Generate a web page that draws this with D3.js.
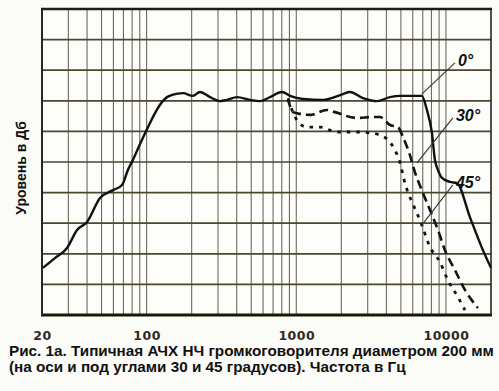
<!DOCTYPE html>
<html>
<head>
<meta charset="utf-8">
<script src="https://cdn.jsdelivr.net/npm/d3@7"></script>
<style>
  html, body { margin: 0; padding: 0; background: #fbfbf7; }
  svg { display: block; }
</style>
</head>
<body>
<svg id="chart" width="499" height="391"></svg>
<script>
// ---- data ----
const freq0  = [20.3, 24.4, 29.4, 34.3, 40, 48.8, 59.6, 68.5, 75, 81, 93, 137, 148, 175, 204, 227, 265, 309, 344, 402, 490, 572, 667, 802, 908, 1108, 1508, 2050, 2280, 2790, 3460, 4230, 4920, 6900, 7460, 8060, 8440, 8840, 9400, 10620, 11840, 14460, 17660, 20000];
const level0 = [1.54, 1.86, 2.19, 2.78, 3.04, 3.82, 4.08, 4.25, 4.74, 5.07, 5.72, 7.12, 7.19, 7.25, 7.16, 7.29, 7.12, 6.99, 7.03, 7.12, 7.03, 6.99, 7.12, 7.29, 7.16, 7.06, 7.03, 7.22, 7.29, 7.09, 6.99, 7.12, 7.16, 7.16, 6.70, 5.95, 5.07, 4.74, 4.48, 4.35, 4.31, 3.20, 2.12, 1.54];

const freq30  = [880, 950, 1234, 1603, 1812, 2540, 3250, 3620, 4230, 4780, 5160, 5740, 6200, 6900, 7820, 8840, 9840, 11480, 13400, 16350];
const level30 = [7.08, 6.63, 6.54, 6.70, 6.63, 6.44, 6.47, 6.47, 6.21, 6.14, 5.82, 5.23, 4.67, 4.08, 3.43, 2.78, 2.12, 1.47, 0.82, 0.23];

const freq45  = [880, 1010, 1178, 1439, 1870, 2180, 2660, 3105, 3620, 4230, 4560, 4920, 5320, 5930, 6400, 6900, 7820, 9120, 10300, 12020, 13400];
const level45 = [7.05, 6.37, 6.14, 6.14, 5.98, 5.98, 5.98, 5.95, 5.88, 5.65, 5.39, 5.00, 4.31, 3.69, 3.33, 2.94, 2.22, 1.73, 1.14, 0.59, 0.16];

const xTickValues = [20, 100, 1000, 10000];
const xTickLabels = ["20", "100", "1000", "10000"];
const yLevels = [0, 1, 2, 3, 4, 5, 6, 7, 8, 9, 10];
const vGridFreqs = [30, 40, 50, 60, 70, 80, 90, 100, 200, 300, 400, 500, 600, 700, 800, 900, 1000,
                    2000, 3000, 4000, 5000, 6000, 7000, 8000, 9000, 10000];

// callouts: [label, fromFreq, fromLevel, toFreq, toLevel]
const calloutLabels = ["0°", "30°", "45°"];
const calloutFrom = [[6900, 7.22], [6400, 4.97], [6900, 2.94]];
const calloutTo   = [[11480, 8.24], [11130, 6.44], [11130, 4.25]];

const yTitle = "Уровень в Дб";
const caption = ["Рис. 1а. Типичная АЧХ НЧ громкоговорителя диаметром 200 мм",
                 "(на оси и под углами 30 и 45 градусов). Частота в Гц"];

// ---- layout ----
const svg = d3.select("#chart");
const L = 42, R = 491, T = 9, B = 315;

const x = d3.scaleLog().domain([20, 20000]).range([L, R]);
const y = d3.scaleLinear().domain([0, 10]).range([B, T]);

// plot background
svg.append("rect").attr("x", L).attr("y", T).attr("width", R - L).attr("height", B - T)
  .attr("fill", "#fdfdf9");

// vertical grid
svg.append("g").selectAll("line").data(vGridFreqs).join("line")
  .attr("x1", d => x(d)).attr("x2", d => x(d))
  .attr("y1", T).attr("y2", B)
  .attr("stroke", "#6e6a62").attr("stroke-width", 1.1);

// horizontal grid
svg.append("g").selectAll("line").data(yLevels.slice(1, -1)).join("line")
  .attr("x1", L).attr("x2", R)
  .attr("y1", d => y(d)).attr("y2", d => y(d))
  .attr("stroke", "#4e4532").attr("stroke-width", 1.7);

// borders
svg.append("line").attr("x1", L - 1).attr("x2", R + 1).attr("y1", y(10)).attr("y2", y(10))
  .attr("stroke", "#221d12").attr("stroke-width", 2.6);
svg.append("line").attr("x1", L - 1).attr("x2", R + 1).attr("y1", y(0)).attr("y2", y(0))
  .attr("stroke", "#1d1708").attr("stroke-width", 3);
svg.append("line").attr("x1", x(20)).attr("x2", x(20)).attr("y1", T).attr("y2", B)
  .attr("stroke", "#2a261c").attr("stroke-width", 2);
svg.append("line").attr("x1", x(20000)).attr("x2", x(20000)).attr("y1", T).attr("y2", B)
  .attr("stroke", "#2a261c").attr("stroke-width", 1.6);

// curves
const line = d3.line().x(d => x(d[0])).y(d => y(d[1])).curve(d3.curveMonotoneX);
const zip = (a, b) => a.map((v, i) => [v, b[i]]);

svg.append("path").datum(zip(freq45, level45)).attr("d", line)
  .attr("fill", "none").attr("stroke", "#151515").attr("stroke-width", 2.8)
  .attr("stroke-dasharray", "3.5,6");
svg.append("path").datum(zip(freq30, level30)).attr("d", line)
  .attr("fill", "none").attr("stroke", "#151515").attr("stroke-width", 2.6)
  .attr("stroke-dasharray", "9,5");
svg.append("path").datum(zip(freq0, level0)).attr("d", line)
  .attr("fill", "none").attr("stroke", "#111").attr("stroke-width", 2.4)
  .attr("stroke-linejoin", "round");

// callouts
const cg = svg.append("g");
calloutLabels.forEach((lab, i) => {
  const [f1, l1] = calloutFrom[i], [f2, l2] = calloutTo[i];
  cg.append("line").attr("x1", x(f1)).attr("y1", y(l1)).attr("x2", x(f2)).attr("y2", y(l2))
    .attr("stroke", "#3a3a3a").attr("stroke-width", 1.2);
  cg.append("text").attr("x", x(f2) + 3).attr("y", y(l2) + 3)
    .attr("font-family", "Liberation Sans, Arial, sans-serif")
    .attr("font-weight", "bold").attr("font-style", "italic")
    .attr("font-size", 16).attr("fill", "#111").text(lab);
});

// x axis labels
const xAxis = d3.axisBottom(x).tickValues(xTickValues)
  .tickFormat((d, i) => xTickLabels[i]).tickSize(0).tickPadding(0);
const ax = svg.append("g").attr("transform", `translate(0,${B})`).call(xAxis);
ax.select(".domain").remove();
ax.selectAll("text")
  .attr("y", 25).attr("dy", 0)
  .attr("font-family", "DejaVu Sans, sans-serif").attr("font-weight", "bold")
  .attr("font-size", 12.5).attr("fill", "#2d2a22").attr("letter-spacing", "0.5");

// y title
svg.append("text").attr("transform", "translate(26,168) rotate(-90)")
  .attr("text-anchor", "middle")
  .attr("font-family", "Liberation Sans, Arial, sans-serif").attr("font-weight", "bold")
  .attr("font-size", 14).attr("fill", "#111").text(yTitle);

// caption
const capBaselines = [356, 372];
caption.forEach((t, i) => {
  const tx = svg.append("text").attr("x", 9).attr("y", capBaselines[i])
    .attr("font-family", "Liberation Sans, Arial, sans-serif").attr("font-weight", "bold")
    .attr("font-size", 14).attr("fill", "#111").text(t);
  if (i === 0) {
    const w = tx.node().getComputedTextLength();
    const fs = 14 * 485 / w;
    svg.selectAll("text.cap").attr("font-size", fs);
    tx.attr("font-size", fs).classed("cap", true);
  } else {
    tx.classed("cap", true);
  }
});
const fsCap = +svg.select("text.cap").attr("font-size");
svg.selectAll("text.cap").attr("font-size", fsCap);
</script>
</body>
</html>
